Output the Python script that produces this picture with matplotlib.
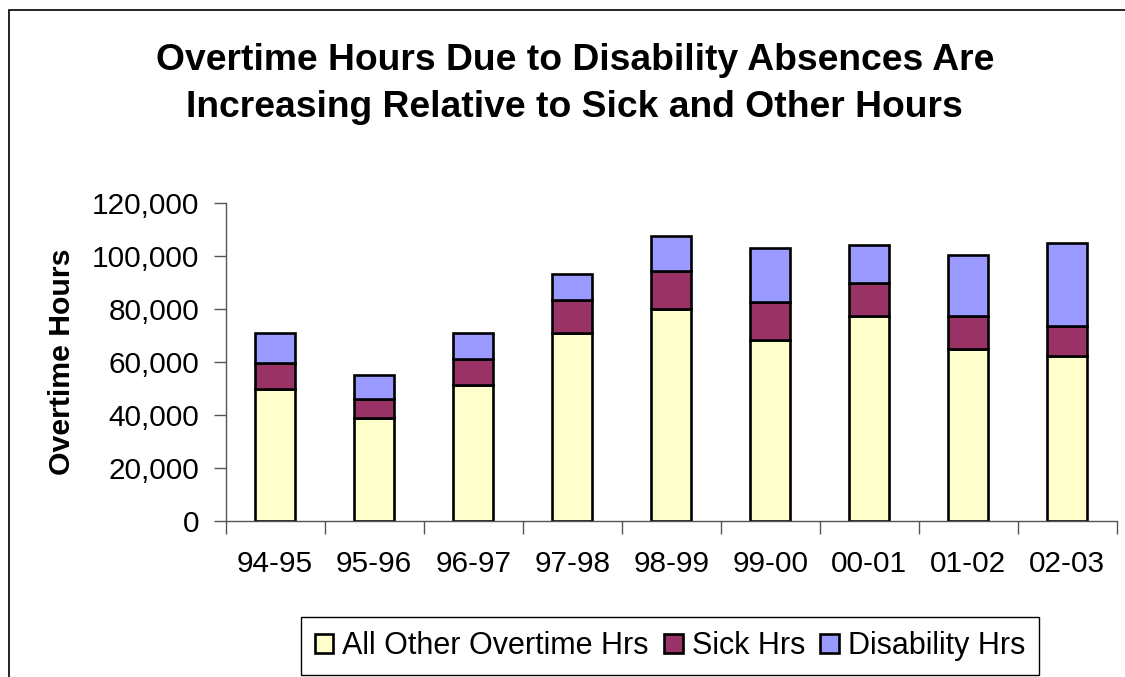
import matplotlib.pyplot as plt
import matplotlib.patches as mpatches
from matplotlib.ticker import FuncFormatter, FixedLocator
import numpy as np

years = ['94-95', '95-96', '96-97', '97-98', '98-99', '99-00', '00-01', '01-02', '02-03']
other_hrs = [49700, 39000, 51500, 71100, 80100, 68400, 77200, 64900, 62300]
sick_hrs = [9900, 7200, 9800, 12300, 14200, 14300, 12600, 12500, 11300]
disability_hrs = [11500, 9000, 9800, 9900, 13200, 20400, 14300, 23000, 31300]

plt.rcParams['font.family'] = ['Liberation Sans', 'DejaVu Sans']

fig = plt.figure(figsize=(11.25, 6.77), dpi=100)
ax = fig.add_axes([0.2006, 0.2304, 0.792, 0.4697])

x = np.arange(len(years))
w = 0.41
bar_kw = dict(width=w, edgecolor='black', linewidth=1.9)
b1 = ax.bar(x, other_hrs, color='#FFFFCC', label='All Other Overtime Hrs', **bar_kw)
b2 = ax.bar(x, sick_hrs, bottom=other_hrs, color='#993366', label='Sick Hrs', **bar_kw)
bottom2 = np.array(other_hrs) + np.array(sick_hrs)
b3 = ax.bar(x, disability_hrs, bottom=bottom2, color='#9999FF', label='Disability Hrs', **bar_kw)

ax.set_xlim(-0.5, len(years) - 0.5)
ax.set_ylim(0, 120000)
ax.set_yticks(range(0, 120001, 20000))
ax.yaxis.set_major_formatter(FuncFormatter(lambda v, p: f'{int(v):,}'))
ax.set_xticks(x)
ax.set_xticklabels(years)
ax.xaxis.set_minor_locator(FixedLocator(np.arange(-0.5, len(years), 1)))

ax.tick_params(axis='x', which='major', length=0, pad=21, labelsize=21.4)
ax.tick_params(axis='x', which='minor', length=9, width=1, color='#555555')
ax.tick_params(axis='y', length=9, width=1, color='#555555', pad=10, labelsize=21.4)

for s in ['top', 'right']:
    ax.spines[s].set_visible(False)
for s in ['left', 'bottom']:
    ax.spines[s].set_color('#555555')
    ax.spines[s].set_linewidth(1)

fig.text(0.511, 0.876, 'Overtime Hours Due to Disability Absences Are\nIncreasing Relative to Sick and Other Hours',
         ha='center', va='center', fontsize=26.8, fontweight='bold', linespacing=1.42)
fig.text(0.055, 0.465, 'Overtime Hours', rotation=90, ha='center', va='center',
         fontsize=21.8, fontweight='bold')

fig.legend(handles=[b1, b2, b3], loc='center', bbox_to_anchor=(0.5956, 0.0458), ncol=3,
           fontsize=22, frameon=True, fancybox=False, edgecolor='black', framealpha=1,
           handlelength=0.6, handleheight=0.6, handletextpad=0.3, columnspacing=0.5,
           borderpad=0.45, borderaxespad=0)

border = mpatches.Rectangle((9 / 1125, -0.1), 2, 1.1 - 10 / 677, transform=fig.transFigure,
                            fill=False, edgecolor='black', linewidth=1.2)
fig.patches.append(border)

plt.savefig('out.png', dpi=100)
